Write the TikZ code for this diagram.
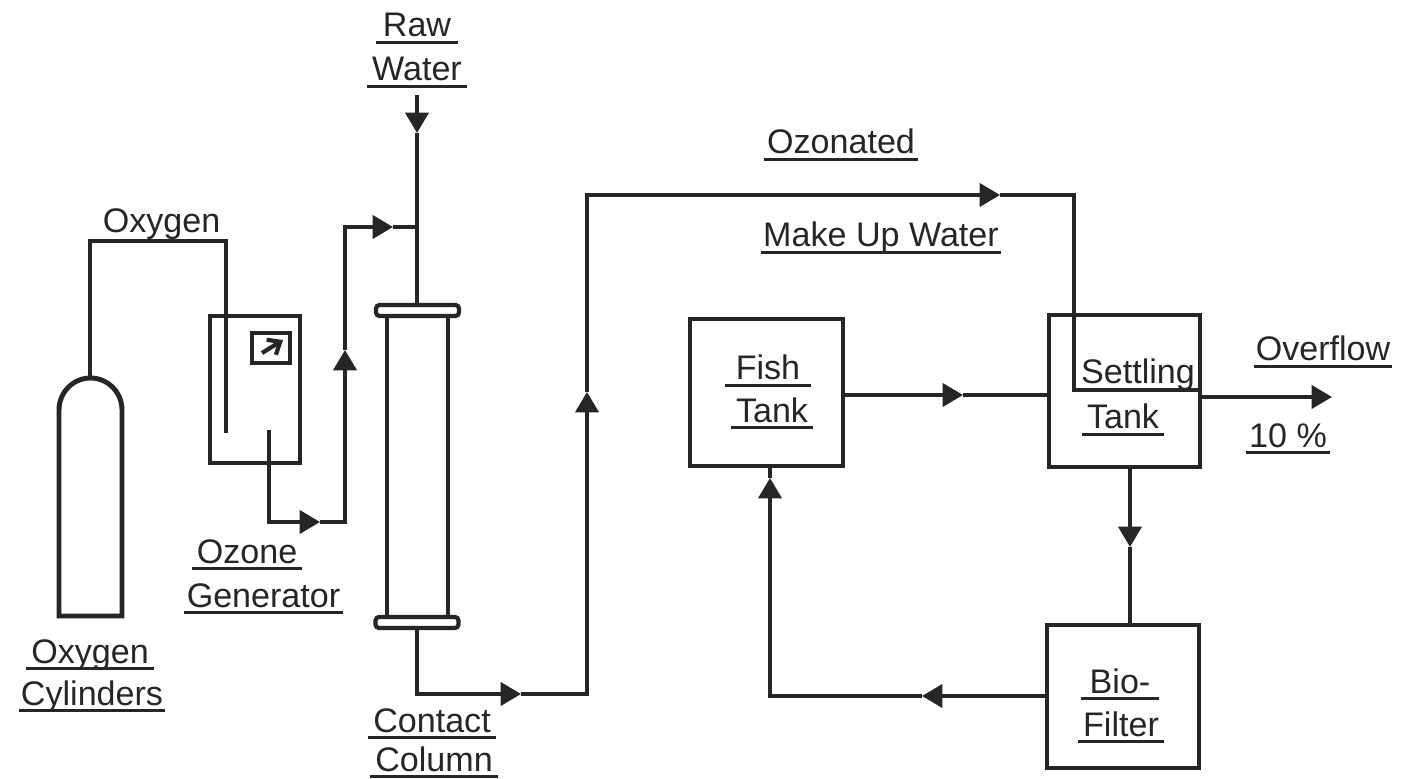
\documentclass[tikz,border=0pt]{standalone}
\usepackage{fontspec}
\setmainfont{Liberation Sans}
\usetikzlibrary{arrows.meta}
\definecolor{Ink}{RGB}{38, 38, 38}
\newcommand{\ulbl}[2][1.4pt]{\vtop{\hbox{\kern#1\smash{#2}\kern#1}\kern1.2pt\hrule height 0.9pt}}

\begin{document}
\begin{tikzpicture}[
    x=0.1mm, y=-0.1mm,
    font=\fontsize{9.7}{11}\selectfont,
    every node/.style={text=Ink},
    unit/.style={rectangle, draw=Ink, line width=1.4pt, inner sep=0pt, outer sep=0pt},
    pipe/.style={draw=Ink, line width=1pt},
    flow/.style={draw=Ink, line width=1pt, -{Triangle[length=5.8pt, width=6.6pt]}},
    lbl/.style={anchor=base, inner sep=0pt}
]
    \useasboundingbox (0,0) rectangle (1404,779);

    % Equipment
    \draw[draw=Ink, line width=1.4pt] (59,616) -- (59,410) arc[start angle=180, end angle=0, x radius=31.5, y radius=-32] -- (122,616) -- cycle;
    \node[unit, minimum width=0.9cm, minimum height=1.47cm] (gen) at (255,389.5) {};
    \node[unit, minimum width=0.38cm, minimum height=0.3cm, line width=1.1pt] (meter) at (271,348) {};
    \draw[draw=Ink, line width=1.2pt, -{Straight Barb[length=3pt, width=5pt]}] (262,353) -- (283,340);
    \node[unit, minimum width=0.61cm, minimum height=3.02cm] (col) at (417.5,467) {};
    \node[unit, minimum width=0.83cm, minimum height=0.11cm, rounded corners=1pt, fill=white, line width=1.2pt] (flangetop) at (417.5,310.5) {};
    \node[unit, minimum width=0.83cm, minimum height=0.11cm, rounded corners=1pt, fill=white, line width=1.2pt] (flangebot) at (417,622.5) {};
    \node[unit, minimum width=1.53cm, minimum height=1.47cm] (fish) at (766.5,392.5) {};
    \node[unit, minimum width=1.51cm, minimum height=1.52cm] (settling) at (1124.5,391) {};
    \node[unit, minimum width=1.52cm, minimum height=1.43cm] (bio) at (1123,696.5) {};

    % Free ends and arrow positions
    \coordinate (rawin) at (417,95);
    \coordinate (rawtip) at (417,133);
    \coordinate (tee) at (417,227);
    \coordinate (cyltop) at (90,378);
    \coordinate (oxend) at (226,433);
    \coordinate (ozstart) at (269,430);
    \coordinate (oztipa) at (320,522);
    \coordinate (oztipb) at (345,350);
    \coordinate (oztipc) at (393,227);
    \coordinate (contipa) at (521,694);
    \coordinate (contipb) at (587,392);
    \coordinate (contipc) at (1000,195);
    \coordinate (fishtip) at (963,395);
    \coordinate (overtip) at (1332,397);
    \coordinate (settletip) at (1130,547);
    \coordinate (biotip) at (922,696);
    \coordinate (fishup) at (770,478);

    % Raw water and oxygen
    \draw[flow] (rawin) -- (rawtip);
    \draw[pipe] (rawtip) -- (flangetop.north -| rawtip);
    \draw[pipe] (cyltop) -- (90,241) -- (226,241) -- (oxend);

    % Ozone line
    \draw[flow] (ozstart) -- (269,522) -- (oztipa);
    \draw[flow] (oztipa) -- (345,522) -- (oztipb);
    \draw[flow] (oztipb) -- (345,227) -- (oztipc);
    \draw[pipe] (oztipc) -- (tee);

    % Make up line
    \draw[flow] (flangebot.south -| rawin) -- (417,694) -- (contipa);
    \draw[flow] (contipa) -- (587,694) -- (contipb);
    \draw[flow] (contipb) -- (587,195) -- (contipc);
    \draw[pipe] (contipc) -- (1074,195) -- (1074,390) -- (settling.east |- 1074,390);

    % Recirculation
    \draw[flow] (fish.east |- fishtip) -- (fishtip);
    \draw[pipe] (fishtip) -- (fishtip -| settling.west);
    \draw[flow] (settling.east |- overtip) -- (overtip);
    \draw[flow] (settletip |- settling.south) -- (settletip);
    \draw[pipe] (settletip) -- (settletip |- bio.north);
    \draw[flow] (bio.west |- biotip) -- (biotip);
    \draw[flow] (biotip) -- (fishup |- biotip) -- (fishup);
    \draw[pipe] (fishup) -- (fishup |- fish.south);

    % Labels
    \node[lbl] (lraw) at (417,37) {\ulbl[2pt]{Raw}};
    \node[lbl] (lwater) at (417,81) {\ulbl{Water}};
    \node[lbl] (loxy) at (161.5,233) {Oxygen};
    \node[lbl] (lozone) at (247,563) {\ulbl{Ozone}};
    \node[lbl] (lgen) at (263.5,607) {\ulbl[0.8pt]{Generator}};
    \node[lbl] (loxb) at (90,663) {\ulbl{Oxygen}};
    \node[lbl] (lcyl) at (92,705) {\ulbl[0.6pt]{Cylinders}};
    \node[lbl] (lcon) at (432,732) {\ulbl{Contact}};
    \node[lbl] (lcol) at (434,771) {\ulbl{Column}};
    \node[lbl] (lozo) at (841,154) {\ulbl[0.9pt]{Ozonated}};
    \node[lbl] (lmak) at (881,247) {\ulbl[0.5pt]{Make Up Water}};
    \node[lbl] (lfis) at (768,380) {\ulbl[3pt]{Fish}};
    \node[lbl] (ltaf) at (772,422) {\ulbl{Tank}};
    \node[lbl] (lset) at (1138,383) {Settling};
    \node[lbl] (ltas) at (1123,429) {\ulbl{Tank}};
    \node[lbl] (lbio) at (1120,693) {\ulbl[2.6pt]{Bio-}};
    \node[lbl] (lfil) at (1121,736) {\ulbl{Filter}};
    \node[lbl] (lovr) at (1323,361) {\ulbl[0.4pt]{Overflow}};
    \node[lbl] (lpct) at (1288,447) {\ulbl[1pt]{10 \%}};
\end{tikzpicture}
\end{document}
